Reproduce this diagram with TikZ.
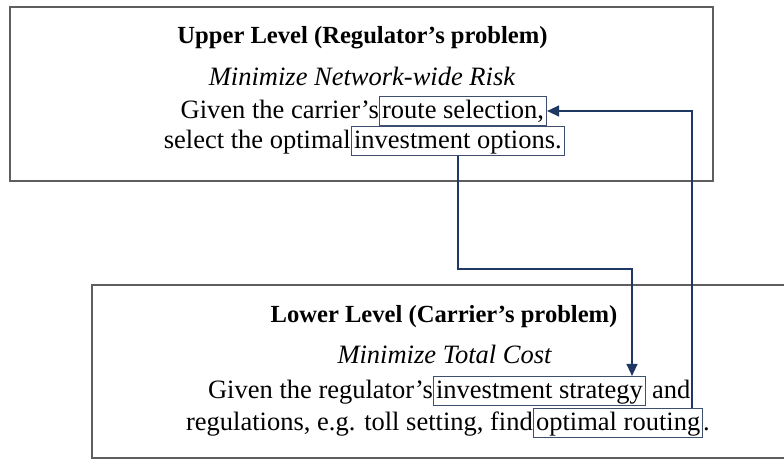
\documentclass[tikz,border=0pt]{standalone}
\usepackage{fontspec}
\setmainfont{Liberation Serif}
\usetikzlibrary{arrows.meta,calc}
\definecolor{arrowblue}{HTML}{1F3763}
\definecolor{framegray}{HTML}{5E5E5E}
\definecolor{wordframe}{HTML}{3E4E6E}
\begin{document}
\begin{tikzpicture}[x=1pt,y=-1pt,
  bodytext/.style={font=\fontsize{26.5}{30}\selectfont, inner sep=0pt},
  ittext/.style={font=\fontsize{26.5}{30}\selectfont\itshape, inner sep=0pt, anchor=base},
  titletext/.style={font=\fontsize{24.6}{28}\selectfont\bfseries, inner sep=0pt, anchor=base},
  wordbox/.style={draw=wordframe, line width=1.2pt, inner xsep=2.5pt, inner ysep=1.5pt,
    text height=20pt, text depth=6pt, font=\fontsize{26.5}{30}\selectfont, anchor=base west},
  levelbox/.style={draw=framegray, line width=1.5pt, inner sep=0pt},
  flow/.style={draw=arrowblue, line width=1.3pt, -{Triangle[length=12pt,width=11pt]}}
]
\useasboundingbox (0,0) rectangle (784,461);
% outer boxes
\node[levelbox, minimum width=703pt, minimum height=174pt] (upper) at (361.5,94) {};
\node[levelbox, minimum width=720pt, minimum height=173pt] (lower) at (452,371.5) {};
% upper level text
\node[titletext] (utitle) at (362.5,43) {Upper Level (Regulator’s problem)};
\node[ittext] (uobj) at (362,85) {Minimize Network-wide Risk};
\node[bodytext, anchor=base east] (u3) at (379,118) {Given the carrier’s};
\node[wordbox] (route) at (379,118) {route selection,};
\node[bodytext, anchor=base east] (u4) at (351,148) {select the optimal};
\node[wordbox] (inv) at (351,148) {investment options.};
% lower level text
\node[titletext] (ltitle) at (444,322) {Lower Level (Carrier’s problem)};
\node[ittext] (lobj) at (444.5,363) {Minimize Total Cost};
\node[bodytext, anchor=base east] (l3) at (433,398) {Given the regulator’s};
\node[wordbox] (strat) at (433,398) {investment strategy};
\node[bodytext, anchor=base west] (l3b) at ([xshift=6pt]strat.base east) {and};
\node[bodytext, anchor=base east] (l4) at (533,430) {regulations, e.g. toll setting, find};
\node[wordbox] (rout) at (533,430) {optimal routing};
\node[bodytext, anchor=base west] (l4b) at ([xshift=-0.5pt]rout.base east) {.};
% connectors
\coordinate (bend1) at (632,269);
\coordinate (bend2) at (692,111);
\draw[flow] (inv.south) |- (bend1) -- (bend1 |- strat.north);
\draw[flow] (rout.north -| bend2) |- (route.east);
\end{tikzpicture}
\end{document}
